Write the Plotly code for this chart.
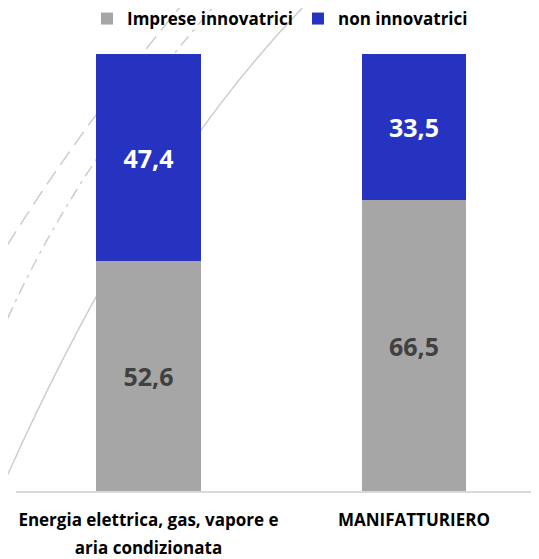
import plotly.graph_objects as go

# ---- data ----
categories = ["Energia elettrica, gas, vapore e", "MANIFATTURIERO"]
tick_lines = [["Energia elettrica, gas, vapore e", "aria condizionata"], ["MANIFATTURIERO"]]
innovatrici = [52.6, 66.5]
non_innovatrici = [47.4, 33.5]
series_names = ["Imprese innovatrici", "non innovatrici"]

GRAY = "#A6A6A6"
BLUE = "#2633C0"
FONT = "Open Sans"

# the html body adds an 8px margin; compensate so the page matches 539x559
OFF = 8
PAGE_W, PAGE_H = 539, 559
W, H = PAGE_W - OFF, PAGE_H - OFF
# plot area in page pixels: left 16, right 539, top 54, bottom 491
L, R, T, B = 16 - OFF, 0, 54 - OFF, PAGE_H - 491
PW, PH = W - L - R, H - T - B


def px(x, y):
    """convert page pixel position to paper coordinates (for decorative shapes)"""
    return (x - OFF - L) / PW, (H - B - (y - OFF)) / PH


def qpath(p0, c, p2):
    a, b, d = px(*p0), px(*c), px(*p2)
    return f"M{a[0]:.4f},{a[1]:.4f} Q{b[0]:.4f},{b[1]:.4f} {d[0]:.4f},{d[1]:.4f}"


tick_text = ["<br>".join(f"<span style='font-size:17px'>{s}</span>" for s in lines)
             for lines in tick_lines]

fig = go.Figure()
fig.add_trace(go.Bar(
    x=categories, y=innovatrici, name=series_names[0],
    marker=dict(color=GRAY, line=dict(width=0)),
    text=[f"{v:.1f}".replace(".", ",") for v in innovatrici],
    textposition="inside", insidetextanchor="middle", textangle=0,
    constraintext="none",
    textfont=dict(family=FONT, size=25, color="#404040", weight="bold"),
    hoverinfo="skip",
))
fig.add_trace(go.Bar(
    x=categories, y=non_innovatrici, name=series_names[1],
    marker=dict(color=BLUE, line=dict(width=0)),
    text=[f"{v:.1f}".replace(".", ",") for v in non_innovatrici],
    textposition="inside", insidetextanchor="middle", textangle=0,
    constraintext="none",
    textfont=dict(family=FONT, size=25, color="white", weight="bold"),
    hoverinfo="skip",
))

# decorative background arcs (page pixel control points)
deco = [
    (((0, 492), (142.5, 168.5), (312, -2)), "solid"),
    (((-5, 265), (77.5, 130), (190, -5)), "16px,8px"),
    (((-3, 343), (69.5, 169), (224, -5)), "12px,6px,3px,6px"),
]
shapes = []
for pts, dash in deco:
    shapes.append(dict(type="path", xref="paper", yref="paper", path=qpath(*pts),
                       line=dict(color="#CDCDCD", width=1.5, dash=dash), layer="below"))

fig.update_layout(
    width=W, height=H,
    margin=dict(l=L, r=R, t=T, b=B, pad=0, autoexpand=False),
    barmode="stack", bargap=0.605,
    paper_bgcolor="white", plot_bgcolor="rgba(0,0,0,0)",
    font=dict(family=FONT, color="black"),
    showlegend=True,
    legend=dict(orientation="h", x=px(280, 0)[0], xanchor="center",
                y=px(0, 19)[1], yanchor="middle",
                font=dict(family=FONT, size=17, color="black", weight="bold"),
                bgcolor="rgba(0,0,0,0)", traceorder="normal"),
    shapes=shapes,
    xaxis=dict(type="category", range=[-0.499, 1.471], automargin=False,
               tickmode="array", tickvals=categories, ticktext=tick_text,
               tickfont=dict(family=FONT, size=21, color="black", weight="bold"),
               showline=True, linecolor="#D9D9D9", linewidth=2,
               showgrid=False, zeroline=False, ticks="", ticklabelstandoff=8),
    yaxis=dict(range=[0, 100], showticklabels=False, showgrid=False, zeroline=False,
               showline=False, automargin=False),
)

fig.write_html("out.html")
